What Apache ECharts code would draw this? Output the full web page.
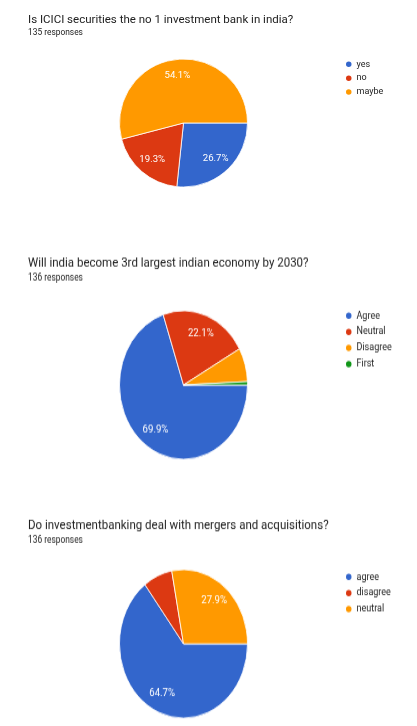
<!DOCTYPE html>
<html>
<head>
<meta charset="utf-8">
<script src="https://cdn.jsdelivr.net/npm/echarts@6/dist/echarts.min.js"></script>
<style>
  html, body { margin: 0; padding: 0; background: #ffffff; }
  body { width: 417px; height: 726px; position: relative; overflow: hidden; }
  .panel { position: absolute; left: 0; width: 417px; transform-origin: 0 0; }
</style>
</head>
<body>
<div id="q1" class="panel" style="top:0px;height:240px;"></div>
<div id="q2" class="panel" style="top:240px;height:220px;transform:scaleY(1.16);"></div>
<div id="q3" class="panel" style="top:500px;height:196px;transform:scaleY(1.16);"></div>
<script>
// Survey question 1
const q1Title = 'Is ICICI securities the no 1 investment bank in india?';
const q1Responses = '135 responses';
const q1Categories = ['yes', 'no', 'maybe'];
const q1Values = [36, 26, 73];

// Survey question 2
const q2Title = 'Will india become 3rd largest indian economy by 2030?';
const q2Responses = '136 responses';
const q2Categories = ['Agree', 'Neutral', 'Disagree', 'First'];
const q2Values = [95, 30, 10, 1];

// Survey question 3
const q3Title = 'Do investmentbanking deal with mergers and acquisitions?';
const q3Responses = '136 responses';
const q3Categories = ['agree', 'disagree', 'neutral'];
const q3Values = [88, 10, 38];

const palette = ['#3366cc', '#dc3912', '#ff9900', '#109618'];
const FONT = 'Roboto, Arial, sans-serif';

function buildPie(elId, title, responses, categories, values, lay) {
  const total = values.reduce((a, b) => a + b, 0);
  const data = categories.map((name, i) => ({ name: name, value: values[i] }));
  const chart = echarts.init(document.getElementById(elId), null, { renderer: 'canvas' });
  chart.setOption({
    animation: false,
    color: palette,
    title: {
      text: title,
      subtext: responses,
      left: 23,
      top: lay.titleTop,
      itemGap: 2.5,
      textStyle: { fontFamily: FONT, fontSize: 11.5, fontWeight: 'normal', color: '#212121', lineHeight: 12 },
      subtextStyle: { fontFamily: FONT, fontSize: 8.4, color: '#212121', lineHeight: 8 }
    },
    legend: {
      orient: 'vertical',
      left: 344,
      top: lay.legendTop,
      icon: 'circle',
      itemWidth: 7.5,
      itemHeight: 7.5,
      itemGap: 4.4,
      padding: 0,
      data: categories,
      textStyle: { fontFamily: FONT, fontSize: 9, color: '#222222', lineHeight: 9, padding: [0, 0, 0, -1] }
    },
    series: [
      {
        type: 'pie',
        center: [183.5, lay.cy],
        radius: [0, 64],
        startAngle: 0,
        clockwise: true,
        avoidLabelOverlap: false,
        label: { show: false },
        labelLine: { show: false },
        itemStyle: { borderColor: '#ffffff', borderWidth: 0.8 },
        emphasis: { disabled: true },
        data: data
      },
      {
        // transparent ring that only carries the percentage labels
        type: 'pie',
        center: [183.5, lay.cy],
        radius: [26, 64],
        startAngle: 0,
        clockwise: true,
        silent: true,
        avoidLabelOverlap: false,
        z: 3,
        itemStyle: { color: 'rgba(0,0,0,0)', borderWidth: 0 },
        labelLine: { show: false },
        emphasis: { disabled: true },
        label: {
          show: true,
          position: 'inside',
          fontFamily: FONT,
          fontSize: 9.6,
          color: '#ffffff',
          formatter: function (p) {
            const share = p.value / total;
            return share < 0.1 ? '' : (share * 100).toFixed(1) + '%';
          }
        },
        data: data
      }
    ]
  });
}

buildPie('q1', q1Title, q1Responses, q1Categories, q1Values, { titleTop: 9.5, legendTop: 59.5, cy: 123 });
buildPie('q2', q2Title, q2Responses, q2Categories, q2Values, { titleTop: 9, legendTop: 60.5, cy: 125 });
buildPie('q3', q3Title, q3Responses, q3Categories, q3Values, { titleTop: 11, legendTop: 61.5, cy: 124 });
</script>
</body>
</html>
